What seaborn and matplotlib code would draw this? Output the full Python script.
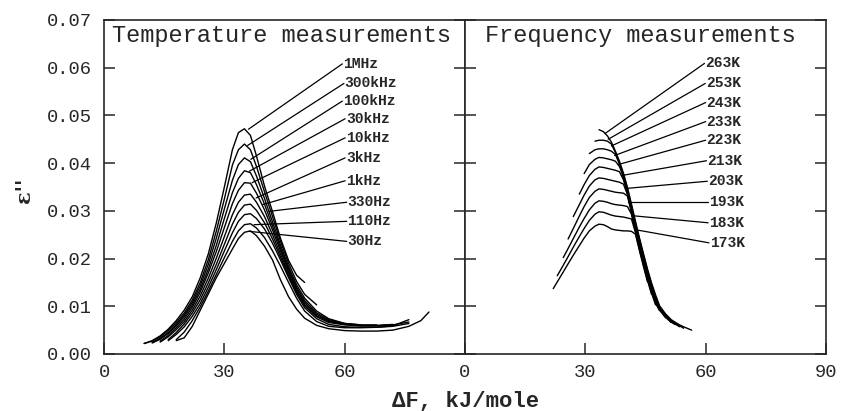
"""
Dielectric loss eps'' versus activation free energy dF:
temperature scans (left) and frequency scans (right).
"""

import numpy as np
import pandas as pd
import matplotlib
matplotlib.use("Agg")
import matplotlib.pyplot as plt
import seaborn as sns

# --- DATA ---
N = None

# left panel: temperature measurements, one curve per frequency
X_TEMP = [10, 12, 14, 16, 18, 20, 22, 24, 26, 28, 30, 32, 33.5, 35, 36.5, 38, 40,
          42, 44, 46, 48, 50, 53, 56, 60, 64, 68, 72, 76, 79, 81]
FREQ_LABELS = ["1MHz", "300kHz", "100kHz", "30kHz", "10kHz",
               "3kHz", "1kHz", "330Hz", "110Hz", "30Hz"]
EPS_1MHZ = [0.0022, 0.0028, 0.0038, 0.0052, 0.0070, 0.0092, 0.0120, 0.0160, 0.0210, 0.0275,
            0.0350, 0.0428, 0.0464, 0.0472, 0.0458, 0.0415, 0.0352, 0.0298, 0.0242, 0.0196,
            0.0165, 0.0150, N, N, N, N, N, N, N, N, N]
EPS_300KHZ = [0.0022, 0.0027, 0.0036, 0.0049, 0.0066, 0.0086, 0.0113, 0.0150, 0.0198, 0.0258,
              0.0325, 0.0396, 0.0428, 0.0440, 0.0428, 0.0393, 0.0340, 0.0288, 0.0236, 0.0190,
              0.0152, 0.0125, 0.0103, N, N, N, N, N, N, N, N]
EPS_100KHZ = [N, 0.0024, 0.0033, 0.0045, 0.0062, 0.0082, 0.0108, 0.0143, 0.0188, 0.0243,
              0.0304, 0.0364, 0.0397, 0.0411, 0.0403, 0.0373, 0.0326, 0.0277, 0.0228, 0.0183,
              0.0145, 0.0117, 0.0090, 0.0074, 0.0064, 0.0061, N, N, N, N, N]
EPS_30KHZ = [N, 0.0023, 0.0031, 0.0043, 0.0059, 0.0078, 0.0103, 0.0136, 0.0178, 0.0228,
             0.0284, 0.0338, 0.0368, 0.0384, 0.0380, 0.0355, 0.0314, 0.0268, 0.0222, 0.0178,
             0.0140, 0.0112, 0.0086, 0.0072, 0.0064, 0.0061, 0.0061, N, N, N, N]
EPS_10KHZ = [N, N, 0.0027, 0.0039, 0.0055, 0.0073, 0.0098, 0.0130, 0.0170, 0.0215,
             0.0265, 0.0315, 0.0343, 0.0359, 0.0358, 0.0337, 0.0302, 0.0260, 0.0216, 0.0174,
             0.0136, 0.0108, 0.0083, 0.0070, 0.0063, 0.0060, 0.0060, 0.0062, N, N, N]
EPS_3KHZ = [N, N, 0.0025, 0.0036, 0.0051, 0.0068, 0.0092, 0.0122, 0.0159, 0.0201,
            0.0246, 0.0292, 0.0318, 0.0333, 0.0335, 0.0318, 0.0288, 0.0250, 0.0209, 0.0169,
            0.0132, 0.0104, 0.0080, 0.0068, 0.0062, 0.0059, 0.0059, 0.0061, N, N, N]
EPS_1KHZ = [N, N, N, 0.0030, 0.0045, 0.0063, 0.0086, 0.0114, 0.0149, 0.0188,
            0.0230, 0.0272, 0.0297, 0.0312, 0.0314, 0.0301, 0.0275, 0.0241, 0.0203, 0.0164,
            0.0129, 0.0101, 0.0078, 0.0066, 0.0061, 0.0059, 0.0059, 0.0061, 0.0067, N, N]
EPS_330HZ = [N, N, N, 0.0028, 0.0041, 0.0057, 0.0079, 0.0106, 0.0140, 0.0177,
             0.0216, 0.0254, 0.0278, 0.0292, 0.0294, 0.0284, 0.0262, 0.0232, 0.0197, 0.0160,
             0.0125, 0.0097, 0.0074, 0.0062, 0.0057, 0.0056, 0.0056, 0.0058, 0.0064, N, N]
EPS_110HZ = [N, N, N, N, 0.0030, 0.0046, 0.0070, 0.0099, 0.0132, 0.0167,
             0.0202, 0.0236, 0.0258, 0.0271, 0.0273, 0.0264, 0.0244, 0.0216, 0.0184, 0.0150,
             0.0117, 0.0090, 0.0068, 0.0058, 0.0055, 0.0055, 0.0056, 0.0059, 0.0072, N, N]
EPS_30HZ = [N, N, N, N, 0.0028, 0.0034, 0.0058, 0.0092, 0.0126, 0.0160,
            0.0190, 0.0220, 0.0242, 0.0255, 0.0258, 0.0248, 0.0226, 0.0197, 0.0155, 0.0120,
            0.0094, 0.0075, 0.0060, 0.0053, 0.0049, 0.0048, 0.0048, 0.0050, 0.0058, 0.0070, 0.0088]

# label positions and where each leader line touches its curve
FREQ_LABEL_X = [59.6, 60.0, 59.6, 60.3, 60.3, 60.3, 60.3, 60.7, 60.7, 60.7]
FREQ_LABEL_Y = [0.0608, 0.0567, 0.0530, 0.0493, 0.0453, 0.0411, 0.0363, 0.0318, 0.0278, 0.0236]
FREQ_TIP_X = [36.0, 35.8, 36.6, 36.2, 36.9, 37.9, 39.5, 41.2, 37.4, 36.2]
FREQ_TIP_Y = [0.0471, 0.0437, 0.0408, 0.0383, 0.0359, 0.0327, 0.0313, 0.0299, 0.0271, 0.0257]

# right panel: frequency measurements, one curve per temperature
X_FREQ = [22, 23, 24.5, 25.7, 27, 28.5, 29.7, 31, 32.4, 33.4, 34.5, 35.5, 36.5, 37.5, 38.5,
          39.5, 40.5, 41.5, 42.5, 43.5, 44.5, 45.5, 46.5, 47.5, 48.5, 50, 51.4, 52.3, 53.5,
          54.5, 56.5]
TEMP_LABELS = ["263K", "253K", "243K", "233K", "223K",
               "213K", "203K", "193K", "183K", "173K"]
EPS_263K = [N, N, N, N, N, N, N, N, N, 0.0470, 0.0466, 0.0457, 0.0444, 0.0425, 0.0404,
            0.0379, 0.0349, 0.0314, 0.0278, 0.0243, 0.0210, 0.0178, 0.0149, 0.0124, 0.0101,
            0.0084, 0.0072, 0.0067, 0.0061, 0.0057, 0.0050]
EPS_253K = [N, N, N, N, N, N, N, N, 0.0446, 0.0448, 0.0448, 0.0446, 0.0440, 0.0422, 0.0401,
            0.0376, 0.0346, 0.0311, 0.0275, 0.0240, 0.0207, 0.0175, 0.0146, 0.0121, 0.0099,
            0.0082, 0.0070, 0.0065, 0.0059, 0.0054, N]
EPS_243K = [N, N, N, N, N, N, N, 0.0420, 0.0428, 0.0430, 0.0430, 0.0428, 0.0425, 0.0418, 0.0398,
            0.0373, 0.0343, 0.0308, 0.0272, 0.0237, 0.0204, 0.0172, 0.0143, 0.0118, 0.0097,
            0.0080, 0.0069, 0.0063, 0.0057, N, N]
EPS_233K = [N, N, N, N, N, N, 0.0378, 0.0397, 0.0408, 0.0412, 0.0411, 0.0409, 0.0407, 0.0404,
            0.0393, 0.0370, 0.0340, 0.0305, 0.0269, 0.0234, 0.0201, 0.0169, 0.0140, 0.0115,
            0.0096, 0.0079, 0.0067, 0.0062, N, N, N]
EPS_223K = [N, N, N, N, N, 0.0335, 0.0355, 0.0374, 0.0387, 0.0392, 0.0391, 0.0389, 0.0387,
            0.0385, 0.0382, 0.0365, 0.0337, 0.0302, 0.0266, 0.0231, 0.0198, 0.0166, 0.0137,
            0.0112, 0.0094, 0.0077, 0.0066, N, N, N, N]
EPS_213K = [N, N, N, N, 0.0288, 0.0313, 0.0333, 0.0352, 0.0365, 0.0369, 0.0368, 0.0366, 0.0364,
            0.0362, 0.0360, 0.0356, 0.0334, 0.0299, 0.0263, 0.0228, 0.0195, 0.0163, 0.0134,
            0.0109, 0.0092, 0.0076, N, N, N, N, N]
EPS_203K = [N, N, N, 0.0241, 0.0263, 0.0289, 0.0309, 0.0328, 0.0341, 0.0346, 0.0345, 0.0343,
            0.0341, 0.0339, 0.0338, 0.0337, 0.0331, 0.0296, 0.0260, 0.0225, 0.0192, 0.0160,
            0.0131, 0.0106, 0.0091, N, N, N, N, N, N]
EPS_193K = [N, N, 0.0202, 0.0221, 0.0242, 0.0266, 0.0284, 0.0302, 0.0316, 0.0321, 0.0320,
            0.0318, 0.0315, 0.0313, 0.0312, 0.0311, 0.0309, 0.0293, 0.0257, 0.0222, 0.0189,
            0.0157, 0.0128, 0.0103, N, N, N, N, N, N, N]
EPS_183K = [N, 0.0164, 0.0186, 0.0204, 0.0224, 0.0246, 0.0263, 0.0280, 0.0293, 0.0298, 0.0297,
            0.0294, 0.0291, 0.0289, 0.0288, 0.0287, 0.0285, 0.0283, 0.0254, 0.0219, 0.0186,
            0.0154, 0.0125, N, N, N, N, N, N, N, N]
EPS_173K = [0.0137, 0.0151, 0.0172, 0.0189, 0.0207, 0.0227, 0.0243, 0.0258, 0.0268, 0.0272,
            0.0271, 0.0267, 0.0262, 0.0260, 0.0259, 0.0258, 0.0258, 0.0257, 0.0251, 0.0216,
            0.0183, 0.0151, N, N, N, N, N, N, N, N, N]

TEMP_LABEL_X = [59.9, 60.1, 60.2, 60.2, 60.2, 60.4, 60.6, 60.8, 60.8, 61.0]
TEMP_LABEL_Y = [0.0609, 0.0567, 0.0527, 0.0487, 0.0448, 0.0405, 0.0362, 0.0319, 0.0275, 0.0233]
TEMP_TIP_X = [34.9, 35.7, 36.5, 37.3, 38.2, 39.0, 40.2, 40.6, 41.5, 42.8]
TEMP_TIP_Y = [0.0462, 0.0450, 0.0436, 0.0416, 0.0397, 0.0374, 0.0347, 0.0319, 0.0290, 0.0260]

Y_TICKS = [0.00, 0.01, 0.02, 0.03, 0.04, 0.05, 0.06, 0.07]


def long_frame(xs, curves, names):
    rows = []
    for name, ys in zip(names, curves):
        for x, y in zip(xs, ys):
            if y is not None:
                rows.append((name, x, y))
    return pd.DataFrame(rows, columns=["curve", "dF", "eps"])


def draw_panel(ax, df, title, title_x, labels, lab_x, lab_y, tip_x, tip_y):
    sns.lineplot(data=df, x="dF", y="eps", units="curve", estimator=None,
                 sort=False, color="black", lw=1.0, ax=ax, legend=False)
    for lab, lx, ly, tx, ty in zip(labels, lab_x, lab_y, tip_x, tip_y):
        ax.plot([tx, lx - 0.2], [ty, ly], color="black", lw=0.9)
        ax.text(lx, ly, lab, ha="left", va="center", fontsize=10.5,
                fontweight="bold", family=["Liberation Mono", "DejaVu Sans"])
    ax.text(title_x, 0.0667, title, ha="left", va="center", fontsize=17)
    ax.set_xlim(0, 90)
    ax.set_ylim(0, 0.07)
    ax.set_xlabel("")
    ax.set_ylabel("")
    ax.set_yticks(Y_TICKS)
    ax.tick_params(direction="in", length=8, width=1.1, left=True, right=True,
                   top=False, bottom=True, labelsize=13.5)
    ax.tick_params(axis="x", pad=7)
    ax.tick_params(axis="y", pad=9)
    for sp in ax.spines.values():
        sp.set_linewidth(1.2)
        sp.set_visible(True)


def main():
    sns.set_style("ticks")
    plt.rcParams["font.family"] = ["Liberation Mono", "DejaVu Sans"]

    df_temp = long_frame(X_TEMP,
                         [EPS_1MHZ, EPS_300KHZ, EPS_100KHZ, EPS_30KHZ, EPS_10KHZ,
                          EPS_3KHZ, EPS_1KHZ, EPS_330HZ, EPS_110HZ, EPS_30HZ],
                         FREQ_LABELS)
    df_freq = long_frame(X_FREQ,
                         [EPS_263K, EPS_253K, EPS_243K, EPS_233K, EPS_223K,
                          EPS_213K, EPS_203K, EPS_193K, EPS_183K, EPS_173K],
                         TEMP_LABELS)

    fig = plt.figure(figsize=(8.41, 4.11), dpi=100)
    ax_t = fig.add_axes([0.1237, 0.1387, 0.4293, 0.8127])
    ax_f = fig.add_axes([0.5529, 0.1387, 0.4293, 0.8127])

    draw_panel(ax_t, df_temp, "Temperature measurements", 2.0,
               FREQ_LABELS, FREQ_LABEL_X, FREQ_LABEL_Y, FREQ_TIP_X, FREQ_TIP_Y)
    draw_panel(ax_f, df_freq, "Frequency measurements", 5.0,
               TEMP_LABELS, TEMP_LABEL_X, TEMP_LABEL_Y, TEMP_TIP_X, TEMP_TIP_Y)

    ax_t.set_xticks([0, 30, 60])
    ax_t.set_yticklabels([f"{v:.2f}" for v in Y_TICKS])
    ax_f.set_xticks([0, 30, 60, 90])
    ax_f.tick_params(labelleft=False)

    fig.text(0.553, 0.024, "ΔF, kJ/mole", ha="center", va="center",
             fontsize=16, fontweight="bold")
    fig.text(0.028, 0.538, "ε''", ha="center", va="center", rotation=90,
             fontsize=15, fontweight="bold", family=["DejaVu Serif"])

    fig.savefig("out.png", dpi=100)


if __name__ == "__main__":
    main()
